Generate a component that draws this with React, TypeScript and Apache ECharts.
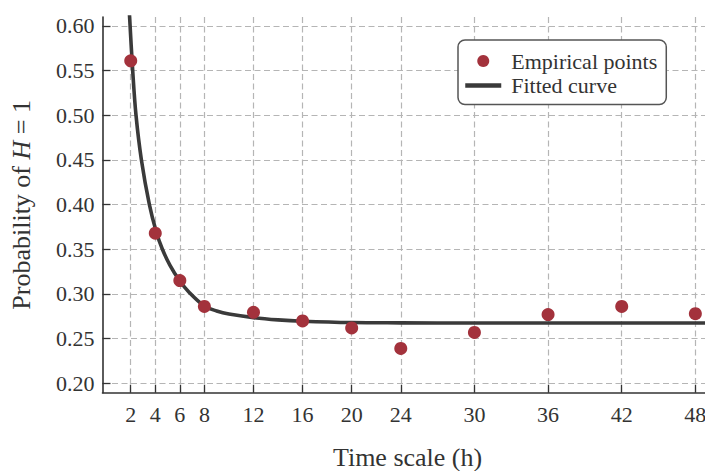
import React, { useEffect, useRef } from "react";
import * as echarts from "echarts";

const hours = [2, 4, 6, 8, 12, 16, 20, 24, 30, 36, 42, 48];
const empirical = [0.561, 0.368, 0.315, 0.286, 0.2795, 0.2698, 0.262, 0.239, 0.257, 0.277, 0.286, 0.278];
const curveX = [1.85, 1.92, 2.16, 2.43, 2.87, 3.52, 4.09, 4.58, 5.2, 5.93, 6.75, 8.0, 9.0, 10, 12, 14, 16, 20, 24, 30, 50.3];
const curveY = [0.625, 0.607, 0.55, 0.5, 0.45, 0.4, 0.369, 0.35, 0.332, 0.316, 0.302, 0.2865, 0.281, 0.2775, 0.2735, 0.271, 0.2695, 0.268, 0.2677, 0.2675, 0.2675];
const yTicks = [0.2, 0.25, 0.3, 0.35, 0.4, 0.45, 0.5, 0.55, 0.6];

const FONT = "'Liberation Serif', 'DejaVu Serif', serif";

export default function App() {
  const ref = useRef<HTMLDivElement>(null);
  useEffect(() => {
    if (!ref.current) return;
    const chart = echarts.init(ref.current, undefined, { renderer: "svg" });
    const grid = { color: "#b5b5b5", width: 1.2, type: [6, 3.5] as number[] };
    chart.setOption({
      animation: false,
      backgroundColor: "#ffffff",
      textStyle: { fontFamily: FONT },
      grid: { left: 102.5, top: 17, bottom: 78.3, right: 0.4, containLabel: false, outerBoundsMode: "none" },
      legend: {
        left: 458,
        top: 40,
        orient: "vertical",
        backgroundColor: "#ffffff",
        borderColor: "#555555",
        borderWidth: 1.5,
        borderRadius: 7,
        padding: [10, 9, 8, 5],
        itemWidth: 36,
        itemHeight: 12,
        itemGap: 2.5,
        textStyle: { fontFamily: FONT, fontSize: 22, color: "#333333", lineHeight: 22, padding: [0, 0, 0, 5] },
        data: [
          { name: "Empirical points", icon: "circle" },
          {
            name: "Fitted curve",
            itemStyle: { opacity: 0 },
            lineStyle: { color: "#3a3a3a", width: 4.5, opacity: 1 },
          },
        ],
      },
      xAxis: {
        type: "value",
        min: -0.3,
        max: 50.3,
        name: "Time scale (h)",
        nameLocation: "middle",
        nameGap: 52,
        nameTextStyle: { fontFamily: FONT, fontSize: 26, lineHeight: 26, color: "#333333", padding: [0, 11, 0, 0] },
        axisLine: { show: true, onZero: false, lineStyle: { color: "#333333", width: 1.6 } },
        axisTick: { show: true, inside: true, length: 8, customValues: hours, lineStyle: { color: "#333333", width: 1.3 } },
        axisLabel: { customValues: hours, margin: 11, fontFamily: FONT, fontSize: 22, color: "#333333" },
        splitLine: { show: true, lineStyle: grid },
      },
      yAxis: {
        type: "value",
        min: 0.1895,
        max: 0.61,
        name: "Probability of {i|H} = 1",
        nameLocation: "middle",
        nameGap: 68,
        nameRotate: 90,
        nameTextStyle: {
          fontFamily: FONT,
          fontSize: 26,
          color: "#333333",
          rich: { i: { fontFamily: FONT, fontSize: 26, fontStyle: "italic", color: "#333333" } },
        },
        axisLine: { show: true, onZero: false, lineStyle: { color: "#333333", width: 1.6 } },
        axisTick: { show: true, inside: true, length: 8, customValues: yTicks, lineStyle: { color: "#333333", width: 1.3 } },
        axisLabel: {
          customValues: yTicks,
          margin: 8,
          fontFamily: FONT,
          fontSize: 22,
          color: "#333333",
          formatter: (v: number) => v.toFixed(2),
        },
        splitLine: { show: true, lineStyle: grid },
      },
      series: [
        {
          name: "Fitted curve",
          type: "line",
          data: curveX.map((x, i) => [x, curveY[i]]),
          smooth: 0.35,
          symbol: "none",
          showSymbol: false,
          lineStyle: { color: "#3a3a3a", width: 3.6 },
          itemStyle: { color: "#3a3a3a" },
          z: 2,
        },
        {
          name: "Empirical points",
          type: "scatter",
          data: hours.map((h, i) => [h, empirical[i]]),
          symbol: "circle",
          symbolSize: 13,
          itemStyle: { color: "#a3323c", opacity: 1 },
          z: 3,
        },
      ],
    });
    return () => chart.dispose();
  }, []);
  return (
    <div style={{ position: "fixed", left: 0, top: 0, width: 705, height: 471, overflow: "hidden" }}>
      <div ref={ref} style={{ width: 724, height: 471 }} />
    </div>
  );
}
